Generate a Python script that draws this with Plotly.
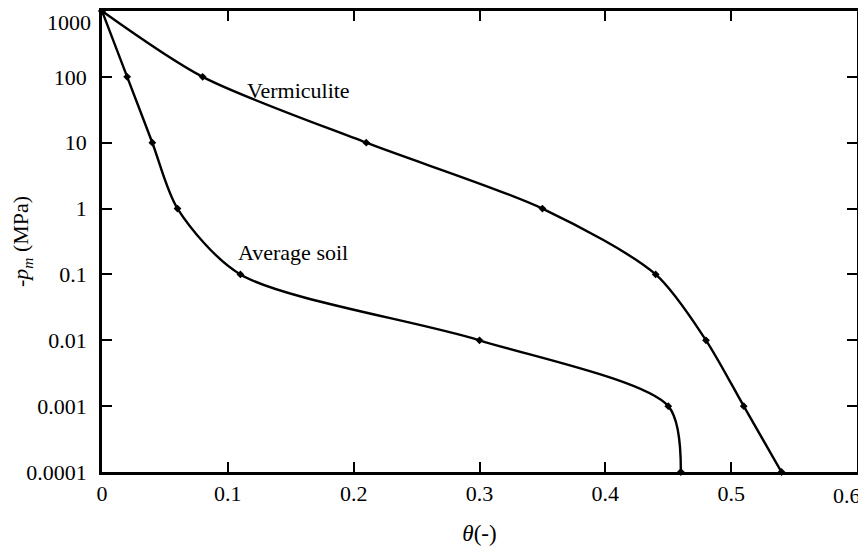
import plotly.graph_objects as go

# Data
soil_theta = [0.0, 0.02, 0.04, 0.06, 0.11, 0.30, 0.45, 0.46]
soil_p = [1000, 100, 10, 1, 0.1, 0.01, 0.001, 0.0001]
verm_theta = [0.0, 0.08, 0.21, 0.35, 0.44, 0.48, 0.51, 0.54]
verm_p = [1000, 100, 10, 1, 0.1, 0.01, 0.001, 0.0001]

x_ticks = [0, 0.1, 0.2, 0.3, 0.4, 0.5, 0.6]
x_labels = ["0", "0.1", "0.2", "0.3", "0.4", "0.5", ""]
last_x_label = "0.6"
y_ticks = [0.0001, 0.001, 0.01, 0.1, 1, 10, 100, 1000]
y_labels = ["0.0001", "0.001", "0.01", "0.1", "1", "10", "100", ""]
top_label = "1000"

FONT = "Liberation Serif"

fig = go.Figure()
for xs, ys, name in [(soil_theta, soil_p, "Average soil"), (verm_theta, verm_p, "Vermiculite")]:
    fig.add_trace(go.Scatter(
        x=xs, y=ys, name=name, mode="lines+markers",
        line=dict(color="black", width=2.4, shape="spline", smoothing=0.8),
        marker=dict(symbol="diamond", size=6, color="black"),
        showlegend=False, cliponaxis=False,
    ))

fig.add_annotation(x=0.156, y=1.79, xref="x", yref="y", text="Vermiculite",
                   showarrow=False, font=dict(family=FONT, size=22, color="black"))
fig.add_annotation(x=0.152, y=-0.66, xref="x", yref="y", text="Average soil",
                   showarrow=False, font=dict(family=FONT, size=22, color="black"))
# end tick labels placed as in the reference (kept inside the page)
fig.add_annotation(x=0, y=0.974, xref="paper", yref="paper", text=top_label,
                   xanchor="right", yanchor="middle", xshift=-9, showarrow=False,
                   font=dict(family=FONT, size=22, color="black"))
fig.add_annotation(x=1, y=0, xref="paper", yref="paper", text=last_x_label,
                   xanchor="right", yanchor="middle", xshift=6, yshift=-23, showarrow=False,
                   font=dict(family=FONT, size=22, color="black"))

axis_common = dict(
    showline=True, linecolor="black", linewidth=2.5, mirror="ticks",
    ticks="inside", ticklen=10, tickwidth=2, tickcolor="black",
    showgrid=False, zeroline=False, automargin=False,
    tickfont=dict(family=FONT, size=22, color="black"),
)

fig.update_layout(
    width=858, height=545,
    margin=dict(l=94, r=9, t=3, b=81),
    paper_bgcolor="white", plot_bgcolor="white",
    xaxis=dict(range=[0, 0.6], tickvals=x_ticks, ticktext=x_labels,
               ticklabelstandoff=0,
               title=dict(text="<i>θ</i>(-)", font=dict(family=FONT, size=23, color="black"),
                          standoff=20),
               **axis_common),
    yaxis=dict(type="log", range=[-4, 3], tickvals=y_ticks, ticktext=y_labels,
               ticklabelstandoff=8,
               title=dict(text="-<i>p</i><sub><i>m</i></sub> (MPa)",
                          font=dict(family=FONT, size=22, color="black"), standoff=10),
               **axis_common),
)

fig.write_html("out.html")
